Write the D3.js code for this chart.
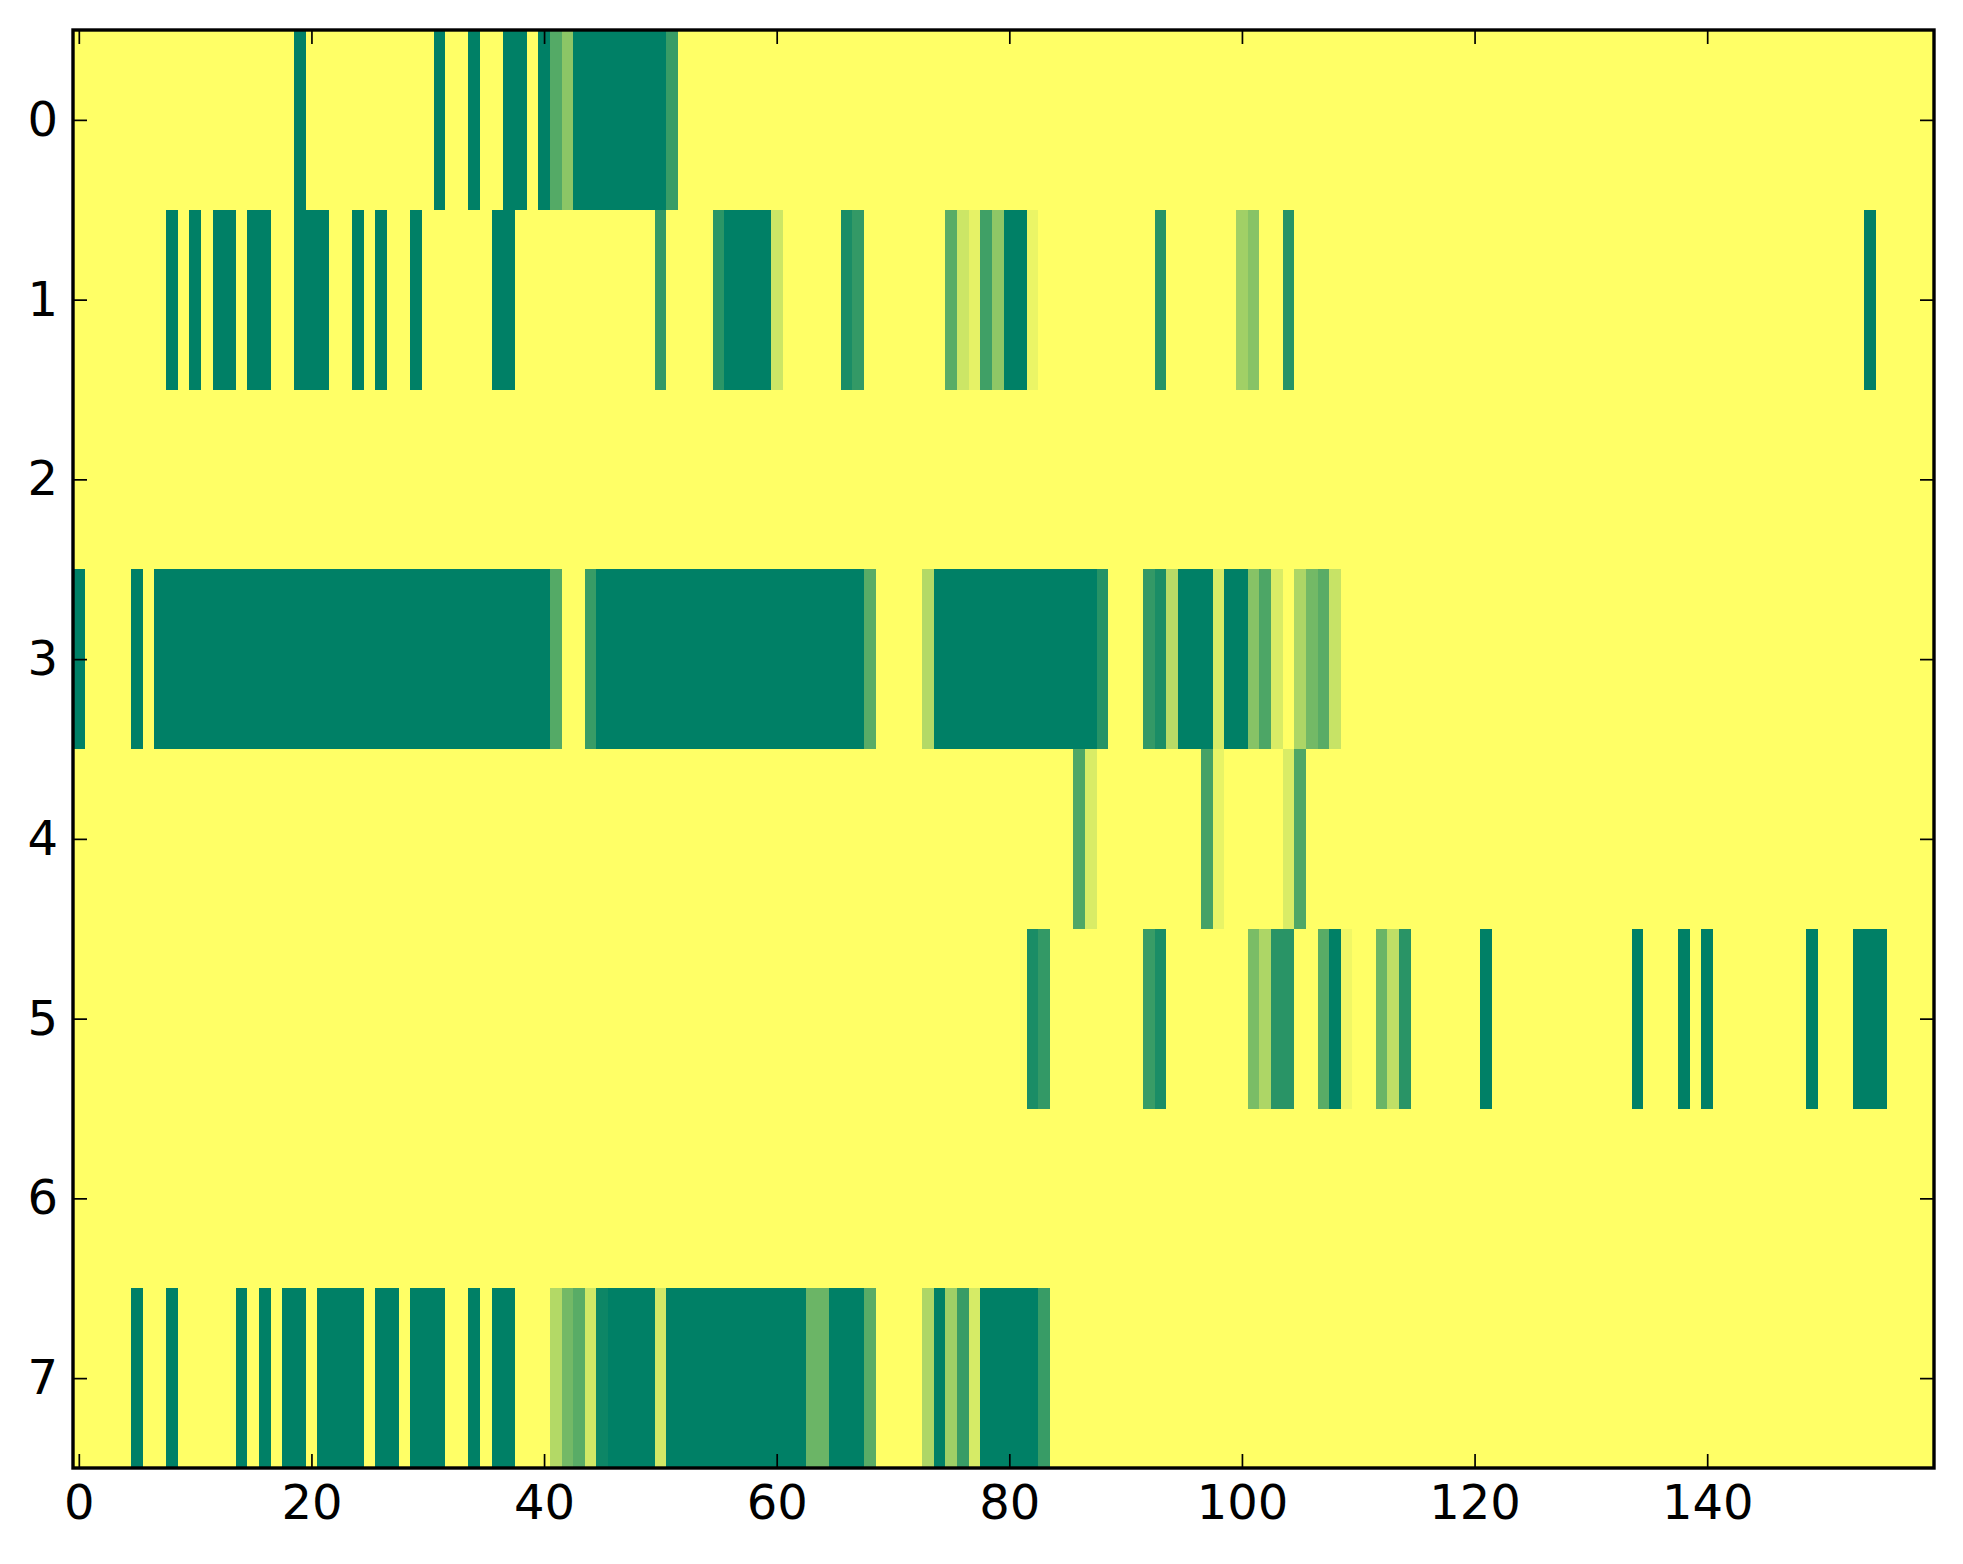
<!DOCTYPE html>
<html>
<head>
<meta charset="utf-8">
<script src="https://cdn.jsdelivr.net/npm/d3@7"></script>
<style>
  body { margin: 0; background: #fff; }
  text { font-family: "DejaVu Sans", sans-serif; }
</style>
</head>
<body>
<div id="chart"></div>
<script>
// one entry per non-empty cell: [column, value]  (value 0 = yellow, 1 = dark green)
const row0 = [[19,1],[31,1],[34,1],[37,1],[38,1],[40,1],[41,0.67],[42,0.45],
  [43,1],[44,1],[45,1],[46,1],[47,1],[48,1],[49,1],[50,1],[51,0.78]];
const row1 = [[8,1],[10,1],[12,1],[13,1],[15,1],[16,1],[19,1],[20,1],[21,1],[24,1],[26,1],[29,1],
  [36,1],[37,1],[50,0.8],[55,0.83],[56,1],[57,1],[58,1],[59,1],[60,0.2],[66,0.9],[67,0.8],
  [75,0.65],[76,0.2],[77,0.1],[78,0.75],[79,0.44],[80,1],[81,1],[82,0.08],[93,0.85],
  [100,0.37],[101,0.47],[104,0.85],[154,1]];
const row2 = [];
const row3 = [[0,1],[5,1],[7,1],[8,1],[9,1],[10,1],[11,1],[12,1],[13,1],[14,1],[15,1],[16,1],[17,1],
  [18,1],[19,1],[20,1],[21,1],[22,1],[23,1],[24,1],[25,1],[26,1],[27,1],[28,1],[29,1],[30,1],
  [31,1],[32,1],[33,1],[34,1],[35,1],[36,1],[37,1],[38,1],[39,1],[40,1],[41,0.67],[44,0.78],
  [45,1],[46,1],[47,1],[48,1],[49,1],[50,1],[51,1],[52,1],[53,1],[54,1],[55,1],[56,1],[57,1],
  [58,1],[59,1],[60,1],[61,1],[62,1],[63,1],[64,1],[65,1],[66,1],[67,1],[68,0.65],[73,0.3],
  [74,1],[75,1],[76,1],[77,1],[78,1],[79,1],[80,1],[81,1],[82,1],[83,1],[84,1],[85,1],[86,1],
  [87,1],[88,0.85],[92,0.8],[93,0.9],[94,0.28],[95,1],[96,1],[97,1],[98,0.15],[99,1],[100,1],
  [101,0.47],[102,0.7],[103,0.15],[105,0.32],[106,0.55],[107,0.65],[108,0.22]];
const row4 = [[86,0.69],[87,0.15],[97,0.73],[98,0.09],[104,0.15],[105,0.69]];
const row5 = [[82,0.9],[83,0.8],[92,0.78],[93,0.9],[101,0.52],[102,0.32],[103,0.84],[104,0.84],
  [107,0.65],[108,1],[109,0.06],[112,0.58],[113,0.25],[114,0.84],[121,1],[134,1],[138,1],
  [140,1],[149,1],[153,1],[154,1],[155,1]];
const row6 = [];
const row7 = [[5,1],[8,1],[14,1],[16,1],[18,1],[19,1],[21,1],[22,1],[23,1],[24,1],[26,1],[27,1],
  [29,1],[30,1],[31,1],[34,1],[36,1],[37,1],[41,0.3],[42,0.55],[43,0.65],[44,0.18],[45,0.95],
  [46,1],[47,1],[48,1],[49,1],[50,0.18],[51,1],[52,1],[53,1],[54,1],[55,1],[56,1],[57,1],
  [58,1],[59,1],[60,1],[61,1],[62,1],[63,0.58],[64,0.58],[65,1],[66,1],[67,1],[68,0.65],
  [73,0.32],[74,1],[75,0.38],[76,0.78],[77,0.16],[78,1],[79,1],[80,1],[81,1],[82,1],[83,0.78]];

const rows = [row0, row1, row2, row3, row4, row5, row6, row7];
const nCols = 160;
const xTicks = [0, 20, 40, 60, 80, 100, 120, 140];
const yTicks = [0, 1, 2, 3, 4, 5, 6, 7];

const width = 1963;
const height = 1564;
const margin = { top: 30, right: 29, bottom: 96, left: 73 };

const cells = rows.flatMap((r, i) => r.map(([c, v]) => ({ row: i, col: c, v })));

const svg = d3
  .select("#chart")
  .append("svg")
  .attr("width", width)
  .attr("height", height);

const x = d3
  .scaleLinear()
  .domain([-0.5, nCols - 0.5])
  .range([margin.left, width - margin.right]);
const y = d3
  .scaleLinear()
  .domain([-0.5, rows.length - 0.5])
  .range([margin.top, height - margin.bottom]);
// summer_r
const color = d3.scaleLinear().domain([0, 1]).range(["#ffff66", "#008066"]);

svg
  .append("rect")
  .attr("x", x(-0.5))
  .attr("y", y(-0.5))
  .attr("width", x(nCols - 0.5) - x(-0.5))
  .attr("height", y(rows.length - 0.5) - y(-0.5))
  .attr("fill", color(0));

svg
  .append("g")
  .attr("shape-rendering", "crispEdges")
  .selectAll("rect")
  .data(cells)
  .join("rect")
  .attr("x", (d) => x(d.col - 0.5))
  .attr("y", (d) => y(d.row - 0.5))
  .attr("width", (d) => x(d.col + 0.5) - x(d.col - 0.5))
  .attr("height", (d) => y(d.row + 0.5) - y(d.row - 0.5))
  .attr("fill", (d) => color(d.v));

const tickLen = 14;
const styleAxis = (g) => {
  g.select(".domain").remove();
  g.selectAll(".tick line").attr("stroke-width", 1.7);
  g.selectAll("text").attr("font-size", 48).attr("fill", "#000");
};

svg
  .append("g")
  .attr("transform", `translate(0,${y(rows.length - 0.5)})`)
  .call(d3.axisBottom(x).tickValues(xTicks).tickSizeInner(-tickLen).tickSizeOuter(0).tickPadding(17))
  .call(styleAxis);
svg
  .append("g")
  .attr("transform", `translate(0,${y(-0.5)})`)
  .call(d3.axisTop(x).tickValues(xTicks).tickSizeInner(-tickLen).tickSizeOuter(0).tickFormat(""))
  .call(styleAxis);
svg
  .append("g")
  .attr("transform", `translate(${x(-0.5)},0)`)
  .call(d3.axisLeft(y).tickValues(yTicks).tickSizeInner(-tickLen).tickSizeOuter(0).tickPadding(15))
  .call(styleAxis);
svg
  .append("g")
  .attr("transform", `translate(${x(nCols - 0.5)},0)`)
  .call(d3.axisRight(y).tickValues(yTicks).tickSizeInner(-tickLen).tickSizeOuter(0).tickFormat(""))
  .call(styleAxis);

svg
  .append("rect")
  .attr("x", x(-0.5))
  .attr("y", y(-0.5))
  .attr("width", x(nCols - 0.5) - x(-0.5))
  .attr("height", y(rows.length - 0.5) - y(-0.5))
  .attr("fill", "none")
  .attr("stroke", "#000")
  .attr("stroke-width", 3.4);
</script>
</body>
</html>
